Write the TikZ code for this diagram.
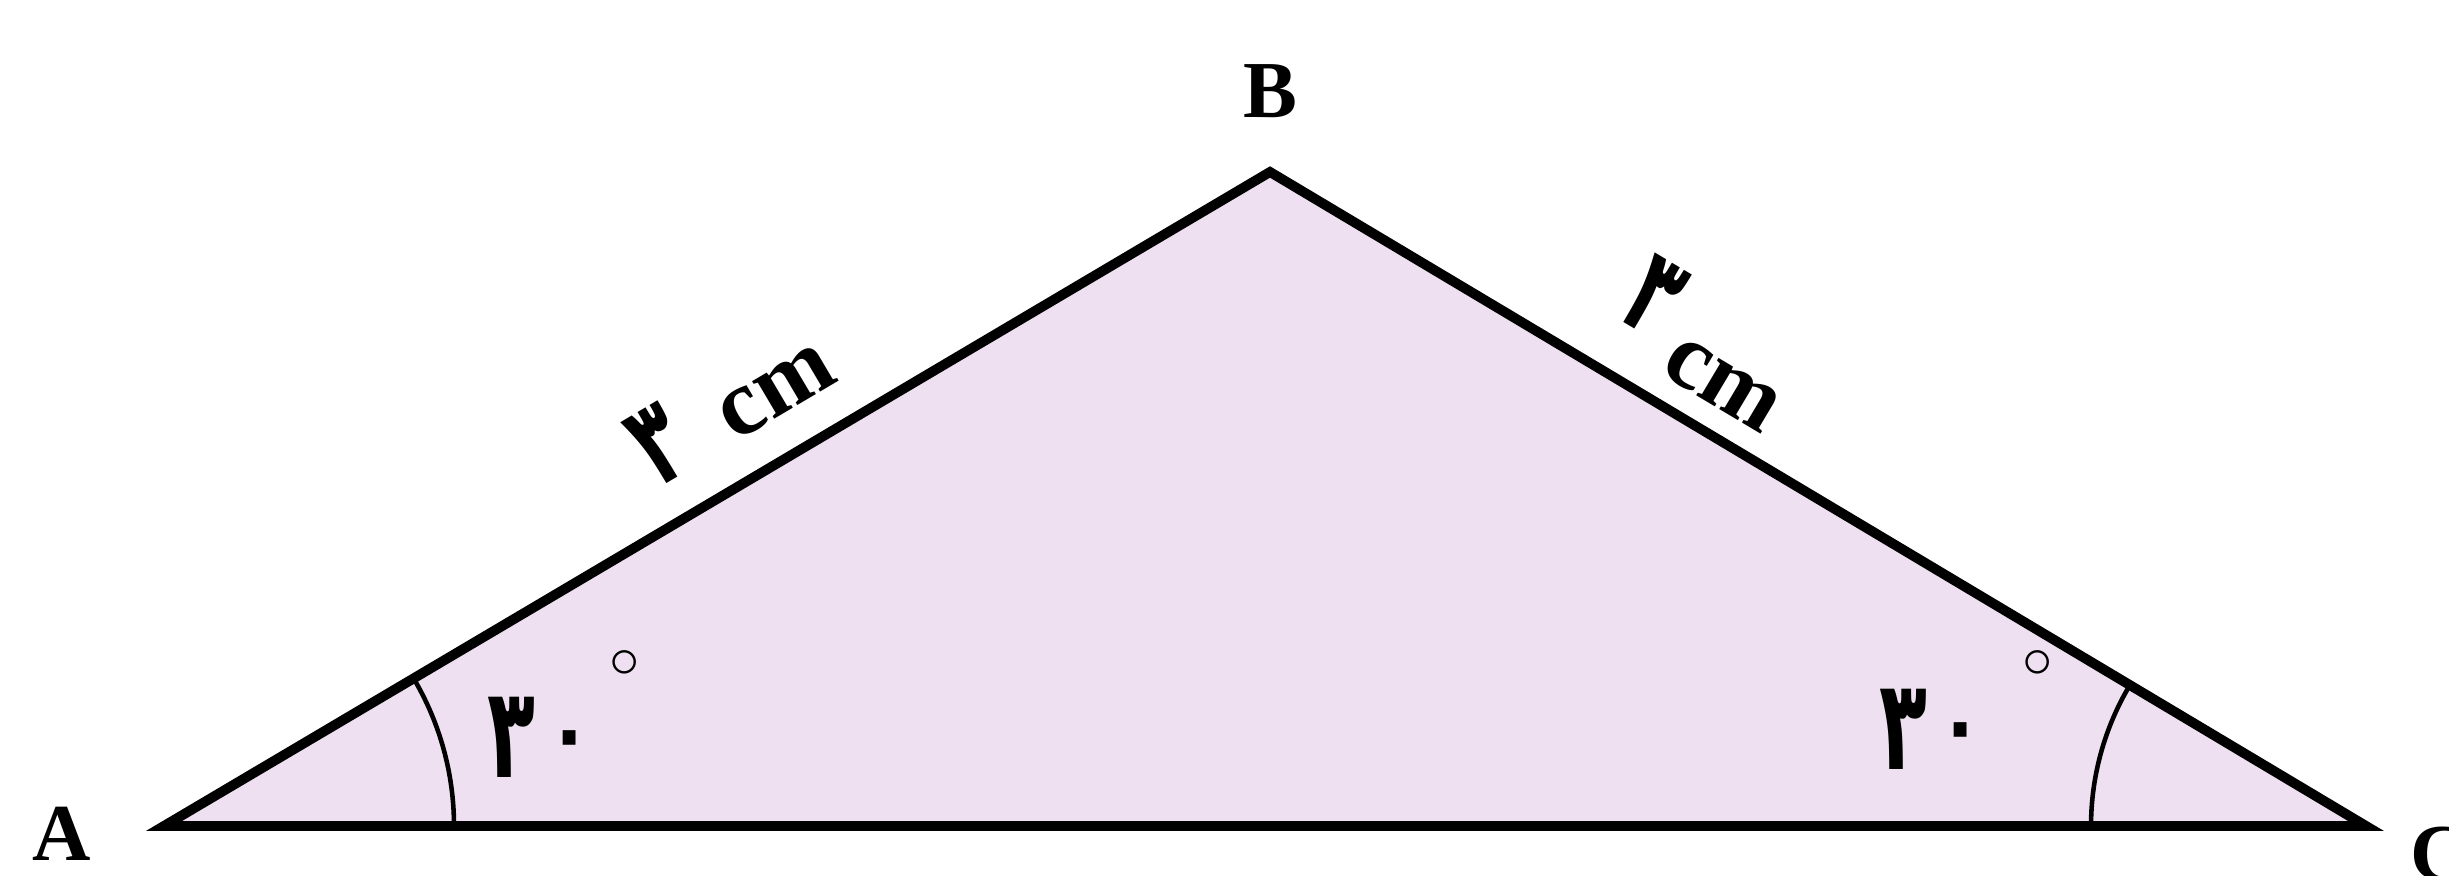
\documentclass[tikz,border=0pt]{standalone}
\usepackage{fontspec}
\setmainfont{Liberation Serif}
\newfontfamily\arabicfont[Script=Arabic]{DejaVu Sans}
\TeXXeTstate=1
\usetikzlibrary{angles}
\definecolor{trifill}{HTML}{EEE0F1}
\newcommand{\pthree}[1]{\scalebox{0.62}[1]{\fontsize{#1}{#1}\selectfont\arabicfont\bfseries ۳}}
\newcommand{\pzero}{\raisebox{0.06cm}{\fontsize{34}{34}\selectfont\arabicfont ۰}}
\tikzset{
  side/.style={draw=black, fill=trifill, line width=2.8pt, line join=miter},
  vlabel/.style={font=\fontsize{23}{26}\selectfont\bfseries, inner sep=0pt},
  dimlabel/.style={font=\fontsize{27}{30}\selectfont\bfseries, inner sep=0pt},
  anglabel/.style={inner sep=0pt},
  degsign/.style={font=\fontsize{18}{20}\selectfont, inner sep=0pt},
  angarc/.style={draw=black, line width=1.3pt}
}
\begin{document}
\begin{tikzpicture}
\useasboundingbox (0,0) rectangle (24.49,8.76);
\coordinate (A) at (1.64,0.50);
\coordinate (B) at (12.70,7.04);
\coordinate (C) at (23.66,0.50);
\filldraw[side] (A) -- (B) -- (C) -- cycle;
\pic[angarc, angle radius=2.9cm] {angle = C--A--B};
\pic[angarc, angle radius=2.75cm] {angle = B--C--A};
\node[vlabel] (lA) at (0.62,0.42) {A};
\node[vlabel] (lB) at (12.70,7.85) {B};
\node[vlabel] (lC) at (24.40,0.22) {C};
\node[dimlabel, rotate=30.6] (lAB) at (7.30,4.74) {\pthree{34}\hspace{0.45cm}cm};
\node[dimlabel, rotate=-30.8] (lBC) at (17.08,5.32) {\raisebox{0.25cm}{\pthree{34}}\hspace{0.2cm}cm};
\node[anglabel] (aA) at (5.45,1.39) {\pthree{36}\hspace{0.02cm}\pzero};
\node[degsign] (dA) at (6.25,2.12) {$\circ$};
\node[anglabel] (aC) at (19.36,1.47) {\pthree{36}\hspace{0.02cm}\pzero};
\node[degsign] (dC) at (20.38,2.12) {$\circ$};
\end{tikzpicture}
\end{document}
